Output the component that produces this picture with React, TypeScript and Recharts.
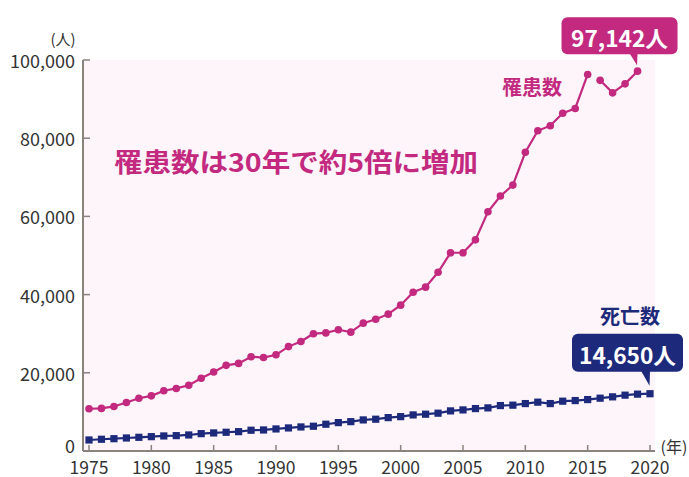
import { LineChart, Line, XAxis, YAxis, CartesianGrid } from 'recharts';

const years = [
  1975, 1976, 1977, 1978, 1979, 1980, 1981, 1982, 1983, 1984,
  1985, 1986, 1987, 1988, 1989, 1990, 1991, 1992, 1993, 1994,
  1995, 1996, 1997, 1998, 1999, 2000, 2001, 2002, 2003, 2004,
  2005, 2006, 2007, 2008, 2009, 2010, 2011, 2012, 2013, 2014,
  2015, 2016, 2017, 2018, 2019, 2020,
];

// 罹患数 1975-2015
const incidence = [
  10800, 10900, 11400, 12400, 13500, 14100, 15400, 16000, 16800, 18600,
  20200, 21900, 22400, 24100, 23900, 24600, 26700, 28000, 30000, 30200,
  31000, 30400, 32700, 33700, 35000, 37300, 40600, 41900, 45700, 50700,
  50700, 54000, 61200, 65200, 68000, 76400, 81900, 83200, 86400, 87600,
  96300,
];
// 罹患数 2016-2019
const incidenceNew = [94800, 91600, 93900, 97142];

// 死亡数 1975-2020
const deaths = [
  2820, 3000, 3150, 3330, 3500, 3670, 3850, 3930, 4100, 4440,
  4620, 4790, 4950, 5310, 5380, 5640, 5900, 6150, 6330, 6850,
  7260, 7510, 7950, 8130, 8540, 8790, 9230, 9410, 9670, 10260,
  10510, 10850, 11030, 11620, 11720, 12130, 12490, 12130, 12740, 12900,
  13150, 13510, 13850, 14280, 14540, 14650,
];

const yTicks = [0, 20000, 40000, 60000, 80000, 100000];
const xTicks = [1975, 1980, 1985, 1990, 1995, 2000, 2005, 2010, 2015, 2020];

const MAGENTA = '#c2297f';
const NAVY = '#1d2a7c';
const AXIS = '#8a827d';
const TEXT = '#333333';
const FONT = '"Noto Sans CJK JP", "Noto Sans", sans-serif';

const data = years.map((year, i) => {
  const j = i - incidence.length;
  return {
    year,
    incidence: i < incidence.length ? incidence[i] : null,
    incidenceNew: j >= 0 && j < incidenceNew.length ? incidenceNew[j] : null,
    deaths: i < deaths.length ? deaths[i] : null,
  };
});

const YTick = ({ x, y, payload }: any) => (
  <g>
    <line x1={x + 8} x2={x + 15} y1={y} y2={y} stroke={AXIS} strokeWidth={1.5} />
    <text
      x={x}
      y={payload.value === 0 ? y - 6 : y}
      textAnchor="end"
      dominantBaseline="central"
      fontSize={18}
      fontFamily={FONT}
      fill={TEXT}
    >
      {payload.value.toLocaleString('en-US')}
    </text>
  </g>
);

const XTick = ({ x, y, payload }: any) => (
  <g>
    <line x1={x} x2={x} y1={y} y2={y - 6} stroke={AXIS} strokeWidth={1.5} />
    <text x={x} y={y + 15} textAnchor="middle" dominantBaseline="central" fontSize={17.5} fontFamily={FONT} fill={TEXT}>
      {payload.value}
    </text>
  </g>
);

function callout(cx: number, cy: number, color: string, label: string, box: { l: number; r: number; t: number; b: number; tip: number; base: number }) {
  return (
    <g>
      <rect x={cx + box.l} y={cy + box.t} width={box.r - box.l} height={box.b - box.t} rx={6} fill={color} />
      <path d={`M${cx + box.base},${cy + box.b - 1} L${cx},${cy + box.b - 1} L${cx - 0.5},${cy + box.tip} Z`} fill={color} />
      <text
        x={cx + (box.l + box.r) / 2}
        y={cy + (box.t + box.b) / 2 + 1}
        textAnchor="middle"
        dominantBaseline="central"
        fontSize={22}
        fontWeight={700}
        fontFamily={FONT}
        fill="#ffffff"
        textLength={97}
        lengthAdjust="spacingAndGlyphs"
      >
        {label}
      </text>
    </g>
  );
}

const circleDot = (last: boolean) => (props: any) => {
  const { cx, cy, index, value } = props;
  if (cy == null || value == null) return <g key={`c-${index}`} />;
  return (
    <g key={`c-${index}`}>
      <circle cx={cx} cy={cy} r={3.8} fill={MAGENTA} />
      {last && index === incidence.length + incidenceNew.length - 1 &&
        callout(cx, cy, MAGENTA, '97,142人', { l: -76, r: 40, t: -54, b: -17, tip: -6, base: -8 })}
    </g>
  );
};

const squareDot = (props: any) => {
  const { cx, cy, index, value } = props;
  if (cy == null || value == null) return <g key={`s-${index}`} />;
  return (
    <g key={`s-${index}`}>
      <rect x={cx - 3.6} y={cy - 3.6} width={7.2} height={7.2} fill={NAVY} />
      {index === deaths.length - 1 &&
        callout(cx, cy, NAVY, '14,650人', { l: -78, r: 33, t: -60, b: -22, tip: -8, base: -9 })}
    </g>
  );
};

export default function App() {
  return (
    <div style={{ position: 'absolute', left: 0, top: 0, width: 689, height: 477, background: '#ffffff' }}>
      <LineChart width={689} height={477} data={data} margin={{ top: 60, right: 34, bottom: 0, left: 0 }}>
        <CartesianGrid horizontal={false} vertical={false} fill="#fdf5f9" />
        <XAxis
          dataKey="year"
          type="number"
          domain={[1975, 2020]}
          ticks={xTicks}
          padding={{ left: 6, right: 5 }}
          height={26}
          tickSize={0}
          tickMargin={0}
          tickLine={false}
          axisLine={{ stroke: AXIS, strokeWidth: 2 }}
          tick={<XTick />}
          interval={0}
        />
        <YAxis
          type="number"
          domain={[0, 100000]}
          ticks={yTicks}
          width={83}
          tickSize={0}
          tickMargin={8}
          tickLine={false}
          axisLine={{ stroke: AXIS, strokeWidth: 2 }}
          tick={<YTick />}
          interval={0}
        />
        <Line dataKey="incidence" type="linear" stroke={MAGENTA} strokeWidth={2.2} dot={circleDot(false)} activeDot={false} isAnimationActive={false} connectNulls={false} />
        <Line dataKey="incidenceNew" type="linear" stroke={MAGENTA} strokeWidth={2.2} dot={circleDot(true)} activeDot={false} isAnimationActive={false} connectNulls={false} />
        <Line dataKey="deaths" type="linear" stroke={NAVY} strokeWidth={2.2} dot={squareDot} activeDot={false} isAnimationActive={false} />
      </LineChart>
      <svg width={689} height={477} style={{ position: 'absolute', left: 0, top: 0, pointerEvents: 'none' }}>
        <text x={63} y={38} textAnchor="middle" dominantBaseline="central" fontSize={15} fontFamily={FONT} fill={TEXT}>(人)</text>
        <text x={674} y={446} textAnchor="middle" dominantBaseline="central" fontSize={16} fontFamily={FONT} fill={TEXT}>(年)</text>
        <text x={532} y={86} textAnchor="middle" dominantBaseline="central" fontSize={20} fontWeight={700} fontFamily={FONT} fill={MAGENTA}>罹患数</text>
        <text x={630} y={315} textAnchor="middle" dominantBaseline="central" fontSize={20} fontWeight={700} fontFamily={FONT} fill={NAVY}>死亡数</text>
        <text
          x={114}
          y={160}
          dominantBaseline="central"
          fontSize={26}
          fontWeight={700}
          fontFamily={FONT}
          fill={MAGENTA}
          textLength={364}
          lengthAdjust="spacingAndGlyphs"
        >
          罹患数は30年で約5倍に増加
        </text>
      </svg>
    </div>
  );
}
